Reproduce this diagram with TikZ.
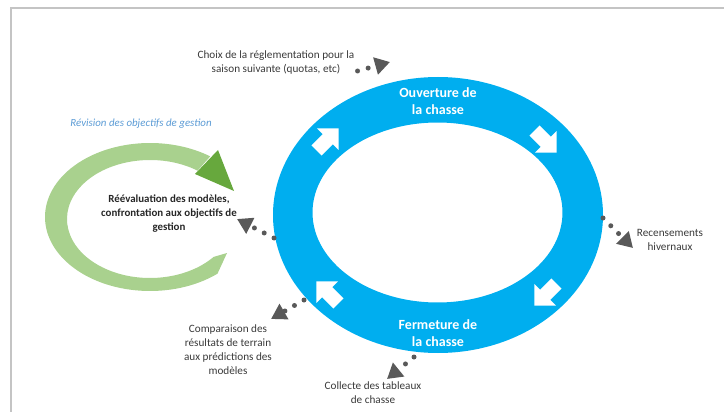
\documentclass[tikz,border=0pt]{standalone}
\usepackage{fontspec}
\setmainfont{Carlito}
\usetikzlibrary{arrows.meta,shapes.arrows}
\definecolor{ringblue}{HTML}{00AEEF}
\definecolor{lightgreen}{HTML}{A9D18E}
\definecolor{darkgreen}{HTML}{67A83D}
\definecolor{conngray}{HTML}{595959}
\definecolor{labelgray}{HTML}{3A3A3A}
\definecolor{revblue}{HTML}{5B9BD5}
\definecolor{framegray}{HTML}{C4C4C4}
\begin{document}
\begin{tikzpicture}[x=1pt,y=-1pt,
  lbl/.style={text=labelgray, align=center, inner sep=1pt, font=\fontsize{11.2}{14}\selectfont},
  boldlbl/.style={text=black!85, align=center, inner sep=1pt, font=\bfseries\fontsize{10.9}{14}\selectfont},
  revlbl/.style={text=revblue, inner sep=1pt, font=\itshape\fontsize{10.9}{12}\selectfont},
  ringtext/.style={text=white, align=center, inner sep=1pt, font=\bfseries\fontsize{14}{16.5}\selectfont},
  blockarrow/.style={single arrow, fill=white, draw=none, minimum height=31pt, single arrow head extend=8pt, inner sep=7pt},
  conn/.style={draw=conngray, line width=5pt, line cap=round, dash pattern=on 0pt off 11pt, -{Triangle[length=15pt,width=17pt]}}]
\useasboundingbox (0,0) rectangle (724,412);
% frame
\draw[framegray, line width=1.5pt] (11,412) -- (11,8) -- (724,8);
% blue ring
\fill[ringblue, even odd rule] (438,215) ellipse [x radius=165, y radius=138]
  (437.5,212.5) ellipse [x radius=125, y radius=90];
% white block arrows
\node[blockarrow, rotate=45] (a1) at (325,142) {};
\node[blockarrow, rotate=-45] (a2) at (543,139) {};
\node[blockarrow, rotate=-135] (a3) at (548,292) {};
\node[blockarrow, rotate=135] (a4) at (330,295) {};
% ring texts
\node[ringtext] (ouv) at (438,101) {Ouverture de\\la chasse};
\node[ringtext] (ferm) at (438,333) {Fermeture de\\la chasse};
% green circular arrow
\fill[lightgreen] (227,253) -- ([shift={(50:105 and 74)}]150,217)
  arc[start angle=50, end angle=305, x radius=105, y radius=74]
  -- ([shift={(305:83 and 59)}]150,219)
  arc[start angle=305, end angle=40, x radius=83, y radius=59] -- cycle;
\fill[darkgreen] (195,174) -- (218,150) -- (234,191) -- cycle;
% labels
\node[revlbl] (revision) at (141,124) {Révision des objectifs de gestion};
\node[boldlbl] (reeval) at (169,214) {Réévaluation des modèles,\\confrontation aux objectifs de\\gestion};
\node[lbl] (choix) at (276,63) {Choix de la réglementation pour la\\saison suivante (quotas, etc)};
\node[lbl] (recens) at (670,240) {Recensements\\hivernaux};
\node[lbl] (compar) at (228,350) {Comparaison des\\résultats de terrain\\aux prédictions des\\modèles};
\node[lbl] (collecte) at (373,393) {Collecte des tableaux\\de chasse};
% connector end points
\coordinate (ringN) at (390,62);
\coordinate (ringE) at (603,218);
\coordinate (ringW) at (274,238);
\coordinate (ringSW) at (304,300);
\coordinate (ringS) at (414,357);
\coordinate (tipRec) at (633,248);
\coordinate (tipRev) at (237,219);
\coordinate (tipCmp) at (271,319);
\coordinate (tipCol) at (387,379);
% connectors
\draw[conn] ([shift={(2,8)}]choix.east) -- (ringN);
\draw[conn] (ringE) -- (tipRec);
\draw[conn] (ringW) -- (tipRev);
\draw[conn] (ringSW) -- (tipCmp);
\draw[conn] (ringS) -- (tipCol);
\end{tikzpicture}
\end{document}
